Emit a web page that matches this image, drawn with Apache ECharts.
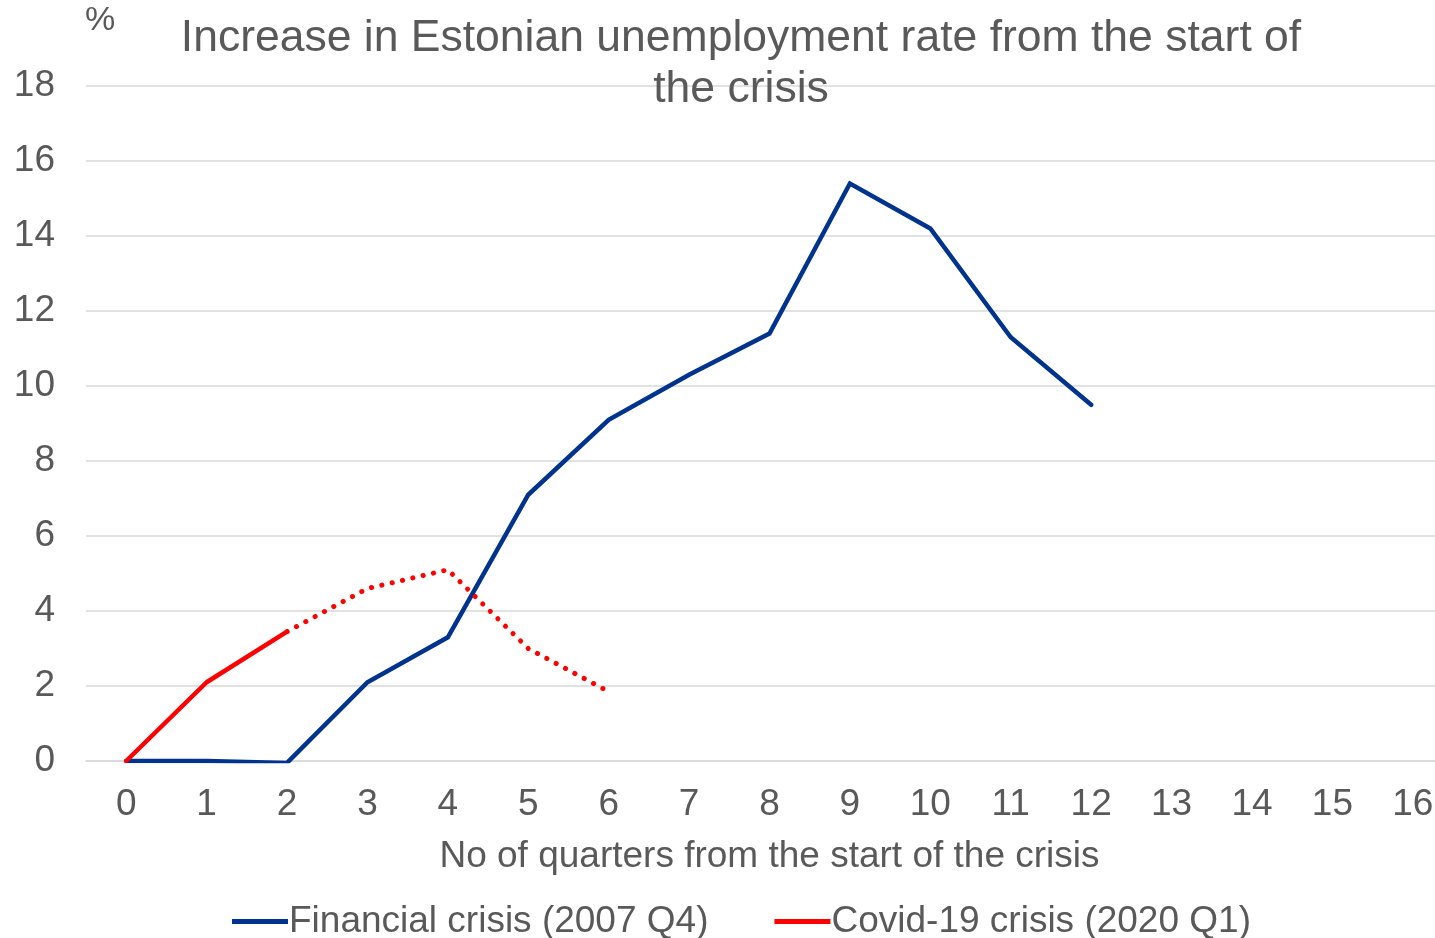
<!DOCTYPE html>
<html>
<head>
<meta charset="utf-8">
<script src="https://cdn.jsdelivr.net/npm/echarts@6/dist/echarts.min.js"></script>
<style>html,body{margin:0;padding:0;background:#fff;overflow:hidden;width:1435px;height:938px}#c{width:1453px;height:938px}</style>
</head>
<body>
<div id="c"></div>
<script>
const categories = ['0','1','2','3','4','5','6','7','8','9','10','11','12','13','14','15','16'];
const financial = [0, 0, -0.05, 2.1, 3.3, 7.1, 9.1, 10.3, 11.4, 15.4, 14.2, 11.3, 9.5];
const covidActual = [0, 2.1, 3.45];
const covidForecast = [null, null, 3.45, 4.6, 5.1, 3.0, 1.85];
const yTicks = [0, 2, 4, 6, 8, 10, 12, 14, 16, 18];

const grey = '#595959';
const font = 'Liberation Sans, Arial, sans-serif';
const chart = echarts.init(document.getElementById('c'));
chart.setOption({
  animation: false,
  textStyle: { fontFamily: font, color: grey },
  title: {
    text: 'Increase in Estonian unemployment rate from the start of\nthe crisis',
    left: 736, top: 8, textAlign: 'center',
    textStyle: { fontFamily: font, fontSize: 44.5, fontWeight: 'normal', color: grey, lineHeight: 51 }
  },
  graphic: [{ type: 'text', left: 85, top: 4, style: { text: '%', font: '34px Liberation Sans, Arial', fill: grey } }],
  grid: { left: 86, right: 0, top: 86, bottom: 177, containLabel: false },
  xAxis: {
    type: 'category', data: categories, boundaryGap: true,
    axisLine: { show: true, lineStyle: { color: '#D9D9D9', width: 1.5 } },
    axisTick: { show: false },
    axisLabel: { fontSize: 37, color: grey, margin: 25, fontFamily: font },
    name: 'No of quarters from the start of the crisis', nameLocation: 'middle', nameGap: 77,
    nameTextStyle: { fontSize: 37, color: grey, fontFamily: font }
  },
  yAxis: {
    type: 'value', min: yTicks[0], max: yTicks[yTicks.length - 1], interval: 2,
    axisLine: { show: false }, axisTick: { show: false },
    axisLabel: { fontSize: 37, color: grey, margin: 31, fontFamily: font },
    splitLine: { lineStyle: { color: '#D9D9D9', width: 1.5 } }
  },
  legend: {
    left: 227, top: 898, itemWidth: 56, itemHeight: 5, itemGap: 66,
    icon: 'rect',
    textStyle: { fontSize: 37, color: grey, fontFamily: font, padding: [0, 0, 0, -4] },
    data: ['Financial crisis (2007 Q4)', 'Covid-19 crisis (2020 Q1)']
  },
  series: [
    { name: 'Financial crisis (2007 Q4)', type: 'line', data: financial, showSymbol: false, symbol: 'none',
      lineStyle: { color: '#00338D', width: 4.5, cap: 'round', join: 'miter' }, itemStyle: { color: '#00338D' } },
    { name: 'Covid-19 crisis (2020 Q1)', type: 'line', data: covidActual, showSymbol: false, symbol: 'none',
      lineStyle: { color: '#FF0000', width: 4.5, cap: 'round' }, itemStyle: { color: '#FF0000' }, z: 3 },
    { name: 'forecast', type: 'line', data: covidForecast, showSymbol: false, symbol: 'none',
      lineStyle: { color: '#FF0000', width: 5, type: [0.1, 10.5], cap: 'round' }, itemStyle: { color: '#FF0000' }, z: 3 }
  ]
});
</script>
</body>
</html>
